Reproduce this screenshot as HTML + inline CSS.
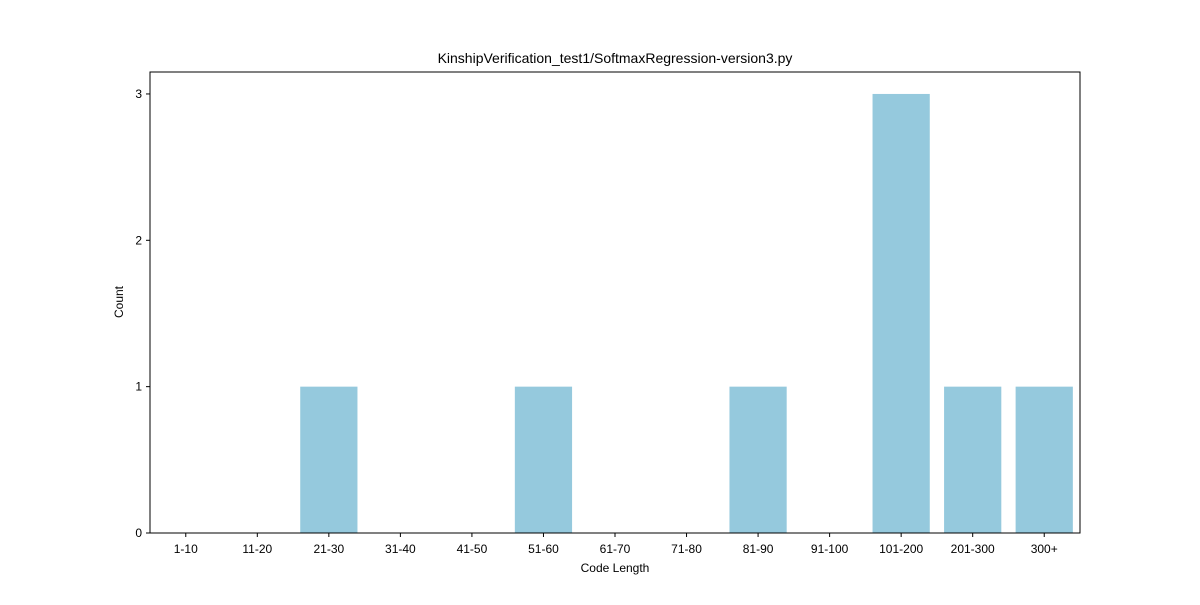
<!DOCTYPE html>
<html><head><meta charset="utf-8"><style>
body{margin:0;background:#fff;font-family:"Liberation Sans",sans-serif;}
svg text{font-family:"Liberation Sans",sans-serif;fill:#000;}
</style></head><body>
<svg id="chart" width="1200" height="600" xmlns="http://www.w3.org/2000/svg">
<rect width="1200" height="600" fill="#fff"/>
<text x="615" y="63" text-anchor="middle" font-size="14">KinshipVerification_test1/SoftmaxRegression-version3.py</text>
<g id="bars"></g>
<g id="xticks"></g>
<g id="yticks"></g>
<rect x="150" y="72" width="930" height="461" fill="none" stroke="#000" stroke-width="1"/>
<text x="615" y="572" text-anchor="middle" font-size="12">Code Length</text>
<text x="123" y="302" text-anchor="middle" font-size="12" transform="rotate(-90 123 302)">Count</text>
</svg>
<script>
const categories=["1-10","11-20","21-30","31-40","41-50","51-60","61-70","71-80","81-90","91-100","101-200","201-300","300+"];
const counts=[0,0,1,0,0,1,0,0,1,0,3,1,1];
const yTicks=[0,1,2,3];
const L=150,R=1080,T=72,B=533,yMax=3.15;
const NS="http://www.w3.org/2000/svg";
const bw=(R-L)/categories.length;
const x=i=>L+(i+0.5)*bw;
const y=v=>B-(v/yMax)*(B-T);
const bars=document.getElementById('bars'),xt=document.getElementById('xticks'),yt=document.getElementById('yticks');
function mk(t,a,p){const e=document.createElementNS(NS,t);for(const k in a)e.setAttribute(k,a[k]);p.appendChild(e);return e;}
categories.forEach((c,i)=>{
  if(counts[i]>0){
    const r=mk('rect',{x:x(i)-bw*0.4,y:y(counts[i]),width:bw*0.8,height:B-y(counts[i]),fill:'#95c9dd'},bars);
    
    
  }
  const l=mk('line',{x1:x(i),x2:x(i),y1:B,y2:B+4,stroke:'#000'},xt);
  
  
  const t=mk('text',{x:x(i),y:B+20,'text-anchor':'middle','font-size':'12'},xt);
  t.textContent=c;
  
  
});
yTicks.forEach(v=>{
  const l=mk('line',{x1:L-4,x2:L,y1:y(v),y2:y(v),stroke:'#000'},yt);
  
  
  const t=mk('text',{x:L-8,y:y(v)+4,'text-anchor':'end','font-size':'12'},yt);
  t.textContent=v;
  
  
});
</script>
</body></html>
